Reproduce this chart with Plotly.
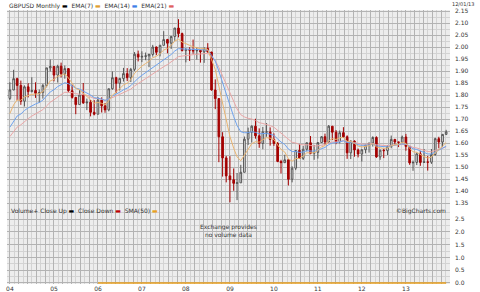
import plotly.graph_objects as go
import pandas as pd

# ---------------- data ----------------
months = pd.date_range("2004-01-01", "2013-12-01", freq="MS")

opens = [1.786,1.821,1.868,1.840,1.774,1.834,1.814,1.819,1.807,1.810,1.840,1.913,
         1.919,1.883,1.920,1.889,1.910,1.818,1.790,1.760,1.800,1.767,1.770,1.728,
         1.720,1.779,1.755,1.738,1.826,1.872,1.849,1.869,1.889,1.872,1.907,1.970,
         1.958,1.961,1.963,1.969,2.000,1.978,2.007,2.031,2.016,2.044,2.079,2.056,
         1.985,1.989,1.987,1.984,1.986,1.980,1.994,1.979,1.821,1.785,1.626,1.538,
         1.463,1.447,1.432,1.434,1.478,1.616,1.645,1.670,1.630,1.598,1.646,1.646,
         1.615,1.598,1.523,1.518,1.530,1.449,1.495,1.569,1.536,1.574,1.601,1.557,
         1.561,1.602,1.626,1.604,1.670,1.645,1.605,1.643,1.626,1.559,1.608,1.571,
         1.554,1.572,1.591,1.600,1.623,1.542,1.570,1.568,1.586,1.615,1.604,1.603,
         1.625,1.586,1.517,1.519,1.555,1.519,1.521,1.520,1.552,1.618,1.604,1.636]
highs = [1.853,1.905,1.872,1.860,1.840,1.849,1.874,1.853,1.823,1.846,1.913,1.948,
         1.920,1.926,1.935,1.923,1.912,1.843,1.781,1.821,1.850,1.785,1.779,1.779,
         1.792,1.790,1.767,1.826,1.898,1.876,1.872,1.913,1.912,1.913,1.979,1.985,
         1.982,1.977,1.972,2.009,2.002,2.009,2.066,2.034,2.045,2.080,2.116,2.060,
         1.996,1.999,2.031,1.999,1.987,1.999,2.016,1.980,1.865,1.786,1.645,1.546,
         1.545,1.494,1.475,1.509,1.627,1.664,1.674,1.701,1.661,1.667,1.683,1.665,
         1.640,1.604,1.530,1.551,1.530,1.503,1.571,1.596,1.588,1.600,1.629,1.592,
         1.603,1.629,1.639,1.675,1.670,1.654,1.652,1.666,1.632,1.611,1.611,1.577,
         1.574,1.593,1.600,1.628,1.628,1.572,1.575,1.590,1.631,1.617,1.605,1.631,
         1.638,1.587,1.527,1.560,1.567,1.575,1.546,1.575,1.622,1.626,1.637,1.655]
lows = [1.779,1.820,1.778,1.759,1.752,1.790,1.811,1.788,1.768,1.785,1.832,1.898,
        1.857,1.852,1.873,1.868,1.813,1.785,1.720,1.760,1.763,1.737,1.711,1.715,
        1.719,1.727,1.726,1.732,1.822,1.808,1.819,1.856,1.858,1.854,1.900,1.940,
        1.937,1.945,1.916,1.960,1.966,1.961,2.007,1.974,1.992,2.026,2.040,1.982,
        1.936,1.942,1.972,1.948,1.935,1.934,1.977,1.818,1.741,1.520,1.460,1.436,
        1.353,1.401,1.362,1.434,1.478,1.592,1.602,1.618,1.580,1.574,1.626,1.589,
        1.588,1.520,1.473,1.519,1.423,1.436,1.487,1.535,1.529,1.565,1.553,1.530,
        1.535,1.601,1.592,1.601,1.612,1.595,1.598,1.621,1.534,1.533,1.543,1.540,
        1.523,1.557,1.560,1.585,1.538,1.530,1.537,1.550,1.578,1.594,1.583,1.600,
        1.568,1.509,1.484,1.508,1.505,1.517,1.485,1.513,1.547,1.578,1.584,1.633]
closes = [1.821,1.868,1.840,1.774,1.834,1.814,1.819,1.807,1.810,1.840,1.913,1.919,
          1.883,1.920,1.889,1.910,1.818,1.790,1.760,1.800,1.767,1.770,1.728,1.720,
          1.779,1.755,1.738,1.826,1.872,1.849,1.869,1.889,1.872,1.907,1.970,1.958,
          1.961,1.963,1.969,2.000,1.978,2.007,2.031,2.016,2.044,2.079,2.056,1.985,
          1.989,1.987,1.984,1.986,1.980,1.994,1.979,1.821,1.785,1.626,1.538,1.463,
          1.447,1.432,1.434,1.478,1.616,1.645,1.670,1.630,1.598,1.646,1.646,1.615,
          1.598,1.523,1.518,1.530,1.449,1.495,1.569,1.536,1.574,1.601,1.557,1.561,
          1.602,1.626,1.604,1.670,1.645,1.605,1.643,1.626,1.559,1.608,1.571,1.554,
          1.572,1.591,1.600,1.623,1.542,1.570,1.568,1.586,1.615,1.604,1.603,1.625,
          1.586,1.517,1.519,1.555,1.519,1.521,1.520,1.552,1.618,1.604,1.636,1.646]
# closes before the visible window (2002-2003), used only to warm up the EMAs
prior_closes = [1.4135,1.4195,1.4245,1.4575,1.4620,1.5335,1.5665,1.5380,1.5690,1.5630,1.5555,1.6100,
                1.6450,1.5780,1.5800,1.5980,1.6340,1.6510,1.6100,1.5800,1.6610,1.6960,1.7210,1.7860]

year_ticks = ["2004-01-01","2005-01-01","2006-01-01","2007-01-01","2008-01-01",
              "2009-01-01","2010-01-01","2011-01-01","2012-01-01","2013-01-01"]
year_labels = ["04","05","06","07","08","09","10","11","12","13"]
price_ticks = [1.35,1.40,1.45,1.50,1.55,1.60,1.65,1.70,1.75,1.80,1.85,1.90,1.95,2.00,2.05,2.10,2.15]
volume_ticks = [0.0,0.5,1.0,1.5,2.0,2.5]
sma50_start = "2006-01-01"
sma50_value = 0.0


def ema(values, n):
    a = 2.0 / (n + 1)
    out, e = [], values[0]
    for v in values:
        e = a * v + (1 - a) * e
        out.append(e)
    return out

full = prior_closes + closes
k = len(prior_closes)
ema7 = ema(full, 7)[k:]
ema14 = ema(full, 14)[k:]
ema21 = ema(full, 21)[k:]

FONT = "DejaVu Sans"
fig = go.Figure()

fig.add_trace(go.Scatter(x=months, y=ema21, mode="lines", line=dict(color="#e8a6a6", width=1),
                         hoverinfo="skip", xaxis="x", yaxis="y"))
fig.add_trace(go.Scatter(x=months, y=ema14, mode="lines", line=dict(color="#6fa3ee", width=1),
                         hoverinfo="skip", xaxis="x", yaxis="y"))
fig.add_trace(go.Scatter(x=months, y=ema7, mode="lines", line=dict(color="#e9b471", width=1),
                         hoverinfo="skip", xaxis="x", yaxis="y"))
fig.add_trace(go.Candlestick(
    x=months, open=opens, high=highs, low=lows, close=closes,
    increasing=dict(line=dict(color="#555555", width=1), fillcolor="#f6f6f6"),
    decreasing=dict(line=dict(color="#a40000", width=1), fillcolor="#a40000"),
    whiskerwidth=0, xaxis="x", yaxis="y", hoverinfo="skip"))

sma_x = [m for m in months if m >= pd.Timestamp(sma50_start)]
fig.add_trace(go.Scatter(x=sma_x, y=[sma50_value] * len(sma_x), mode="lines",
                         line=dict(color="#e8a020", width=1.5), hoverinfo="skip",
                         xaxis="x2", yaxis="y2"))
# invisible trace so the year-label axis is drawn
fig.add_trace(go.Scatter(x=year_ticks, y=[sma50_value] * len(year_ticks), mode="markers",
                         marker=dict(opacity=0), hoverinfo="skip", xaxis="x3", yaxis="y2"))

xr = ["2003-12-08", "2014-01-02"]
grid_major = "#b3b3b3"
grid_minor = "#d3d3d3"
dt_major = 73.05 * 86400000
dt_minor = dt_major / 2

common_x = dict(type="date", range=xr, showgrid=True, gridcolor=grid_major, gridwidth=1,
                tick0="2004-01-01", dtick=dt_major, showticklabels=False, ticks="",
                minor=dict(dtick=dt_minor, showgrid=True, gridcolor=grid_minor, gridwidth=1),
                zeroline=False, showline=False, rangeslider=dict(visible=False),
                automargin=False)

PRICE_DOM = [0.281, 1.0]
VOL_DOM = [0.0, 0.281]

fig.update_layout(
    width=480, height=292,
    margin=dict(l=7, r=30, t=10, b=8, autoexpand=False),
    paper_bgcolor="white", plot_bgcolor="#ededed",
    showlegend=False,
    font=dict(family=FONT, size=7, color="#333333"),
    xaxis=dict(**common_x, domain=[0, 1], anchor="y"),
    xaxis2=dict(**common_x, domain=[0, 1], anchor="y2", matches="x"),
    xaxis3=dict(type="date", range=xr, overlaying="x2", anchor="y2", side="bottom",
                tickmode="array", tickvals=year_ticks, ticktext=year_labels,
                showgrid=False, ticks="", tickfont=dict(size=6, color="#333"),
                zeroline=False, showline=False, ticklabelstandoff=0, automargin=False),
    yaxis=dict(domain=PRICE_DOM, range=[1.3333, 2.1542], side="right",
               tickmode="array", tickvals=price_ticks,
               ticktext=["%.2f" % v for v in price_ticks],
               showgrid=True, gridcolor=grid_major,
               minor=dict(dtick=0.025, tick0=0, showgrid=True, gridcolor=grid_minor),
               zeroline=False, ticks="", tickfont=dict(size=6, color="#333"), anchor="x",
               ticklabelstandoff=4, automargin=False),
    yaxis2=dict(domain=VOL_DOM, range=[-0.04, 2.97], side="right",
                tickmode="array", tickvals=volume_ticks,
                ticktext=["%.1f" % v for v in volume_ticks],
                showgrid=True, gridcolor=grid_major,
                minor=dict(dtick=0.25, tick0=0, showgrid=True, gridcolor=grid_minor),
                zeroline=False, ticks="", tickfont=dict(size=6, color="#333"), anchor="x2",
                ticklabelstandoff=4, automargin=False),
)

def bar(c):
    return "<span style='color:%s'>▬</span>" % c

fig.add_annotation(xref="paper", yref="paper", x=0.0, y=1.0, yshift=10, xanchor="left", yanchor="top",
                   showarrow=False, font=dict(size=6, color="#333"),
                   text="GBPUSD Monthly " + bar("#000") + "  EMA(7) " + bar("#e0a030") +
                        "  EMA(14) " + bar("#3d7fe8") + "  EMA(21) " + bar("#e06060"))
fig.add_annotation(xref="paper", yref="paper", x=1.0, xshift=26, y=1.0, yshift=11, xanchor="right",
                   yanchor="top", showarrow=False, font=dict(size=5, color="#333"), text="12/01/13")
fig.add_annotation(xref="paper", yref="y2", x=0.0, xshift=2, y=2.8, xanchor="left", yanchor="middle",
                   showarrow=False, font=dict(size=6, color="#333"),
                   text="Volume+ Close Up " + bar("#000") + "  Close Down " + bar("#c00000") +
                        "  SMA(50) " + bar("#e8a020"))
fig.add_annotation(xref="paper", yref="y2", x=0.995, y=2.8, xanchor="right", yanchor="middle",
                   showarrow=False, font=dict(size=6, color="#333"), text="©BigCharts.com")
fig.add_annotation(xref="paper", yref="y2", x=0.5, y=2.05, xanchor="center", yanchor="middle",
                   showarrow=False, font=dict(size=6, color="#333"),
                   text="Exchange provides<br>no volume data")

fig.write_html("out.html")
